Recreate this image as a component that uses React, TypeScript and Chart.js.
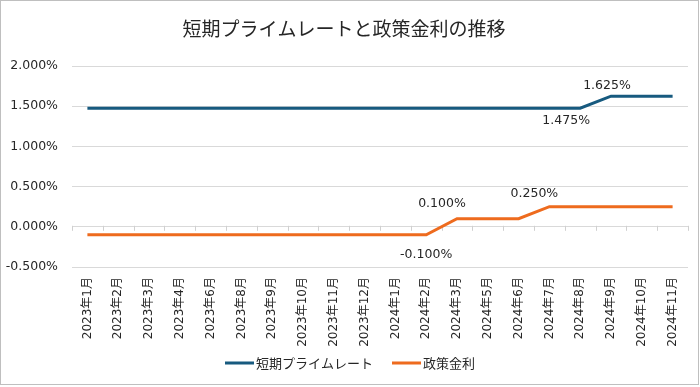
import React, { useEffect, useRef } from "react";
import { Chart, registerables } from "chart.js";

Chart.register(...registerables);

const categories = [
  "2023年1月", "2023年2月", "2023年3月", "2023年4月", "2023年6月",
  "2023年8月", "2023年9月", "2023年10月", "2023年11月", "2023年12月",
  "2024年1月", "2024年2月", "2024年3月", "2024年5月", "2024年6月",
  "2024年7月", "2024年8月", "2024年9月", "2024年10月", "2024年11月",
];

const primeRate = [
  1.475, 1.475, 1.475, 1.475, 1.475, 1.475, 1.475, 1.475, 1.475, 1.475,
  1.475, 1.475, 1.475, 1.475, 1.475, 1.475, 1.475, 1.625, 1.625, 1.625,
];

const policyRate = [
  -0.1, -0.1, -0.1, -0.1, -0.1, -0.1, -0.1, -0.1, -0.1, -0.1,
  -0.1, -0.1, 0.1, 0.1, 0.1, 0.25, 0.25, 0.25, 0.25, 0.25,
];

const seriesNames = ["短期プライムレート", "政策金利"];
const yTicks = [-0.5, 0, 0.5, 1.0, 1.5, 2.0];

// labelled points: [dataset index, category index]
const labelPoints: [number, number][] = [
  [0, 16],
  [0, 17],
  [1, 11],
  [1, 12],
  [1, 15],
];

// label offsets (styling), same order as labelPoints
const labelOffsets: [number, number][] = [
  [-14, 13],
  [-4, -10],
  [0, 20],
  [-15, -15],
  [-15, -13],
];

const NUM_FONT = "'DejaVu Sans', 'Noto Sans CJK JP', sans-serif";
const CJK_FONT = "'Noto Sans CJK JP', sans-serif";
const COLORS = ["#175a7f", "#ee6b1e"];

const fmt = (v: number) => v.toFixed(3) + "%";

const decorPlugin = {
  id: "decor",
  beforeDatasetsDraw(chart: any) {
    const { ctx, chartArea, scales } = chart;
    const y = scales.y;
    const y0 = y.getPixelForValue(0);
    const n = categories.length;
    const w = (chartArea.right - chartArea.left) / n;
    ctx.save();
    ctx.strokeStyle = "#d0d0d0";
    ctx.lineWidth = 1;
    ctx.beginPath();
    for (let i = 0; i <= n; i++) {
      const px = Math.round(chartArea.left + i * w) + 0.5;
      ctx.moveTo(px, y0 - 1);
      ctx.lineTo(px, y0 + 4);
    }
    ctx.stroke();
    ctx.restore();
  },
  afterDraw(chart: any) {
    const { ctx, width, height } = chart;
    ctx.save();
    // data labels
    ctx.font = `12.5px ${NUM_FONT}`;
    ctx.fillStyle = "#262626";
    ctx.textAlign = "center";
    ctx.textBaseline = "middle";
    labelPoints.forEach(([ds, idx], k) => {
      const meta = chart.getDatasetMeta(ds);
      const pt = meta.data[idx];
      const v = chart.data.datasets[ds].data[idx] as number;
      const [dx, dy] = labelOffsets[k];
      ctx.fillText(fmt(v), pt.x + dx, pt.y + dy);
    });

    // legend
    ctx.font = `13px ${CJK_FONT}`;
    const lineW = 29;
    const gap = 2;
    const itemGap = 19;
    const items = chart.data.datasets.map((d: any) => ({
      label: d.label,
      color: d.borderColor,
      tw: ctx.measureText(d.label).width,
    }));
    const total =
      items.reduce((s: number, it: any) => s + lineW + gap + it.tw, 0) +
      itemGap * (items.length - 1);
    let cx = width / 2 - total / 2;
    const ly = 363;
    ctx.textAlign = "left";
    items.forEach((it: any) => {
      ctx.fillStyle = it.color;
      ctx.fillRect(cx, ly - 1.5, lineW, 3);
      cx += lineW + gap;
      ctx.fillStyle = "#262626";
      ctx.fillText(it.label, cx, ly);
      cx += it.tw + itemGap;
    });

    // border
    ctx.strokeStyle = "#bfbfbf";
    ctx.lineWidth = 1;
    ctx.strokeRect(0.5, 0.5, width - 2, height - 3);
    ctx.restore();
  },
};

export default function App() {
  const ref = useRef<HTMLCanvasElement>(null);

  useEffect(() => {
    document.body.style.margin = "0";
    if (!ref.current) return;
    const chart = new Chart(ref.current, {
      type: "line",
      data: {
        labels: categories,
        datasets: [
          {
            label: seriesNames[0],
            data: primeRate,
            borderColor: COLORS[0],
            backgroundColor: COLORS[0],
            borderWidth: 3,
            pointRadius: 0,
            tension: 0,
          },
          {
            label: seriesNames[1],
            data: policyRate,
            borderColor: COLORS[1],
            backgroundColor: COLORS[1],
            borderWidth: 3,
            pointRadius: 0,
            tension: 0,
          },
        ],
      },
      options: {
        animation: false,
        responsive: false,
        devicePixelRatio: 1,
        layout: { padding: { left: 0, right: 12, top: 0, bottom: 30 } },
        plugins: {
          legend: { display: false },
          tooltip: { enabled: false },
          title: {
            display: true,
            text: "短期プライムレートと政策金利の推移",
            color: "#262626",
            font: { family: CJK_FONT, size: 19, weight: "normal", lineHeight: 1.2 },
            padding: { top: 17.6, bottom: 25.6 },
          },
        },
        scales: {
          x: {
            offset: true,
            grid: { display: false, drawTicks: false },
            border: { display: false },
            ticks: {
              minRotation: 90,
              maxRotation: 90,
              autoSkip: false,
              padding: 10,
              color: "#262626",
              font: { family: NUM_FONT, size: 12 },
            },
            afterFit(scale: any) {
              scale.height = 90;
            },
          },
          y: {
            min: -0.5,
            max: 2.0,
            afterBuildTicks(scale: any) {
              scale.ticks = yTicks.map((v) => ({ value: v }));
            },
            grid: { color: "#d9d9d9", drawTicks: false, lineWidth: 1 },
            border: { display: false },
            ticks: {
              padding: 14,
              color: "#262626",
              font: { family: NUM_FONT, size: 12.5 },
              callback: (v: any) => fmt(Number(v)),
            },
            afterFit(scale: any) {
              scale.width = 72;
            },
          },
        },
      },
      plugins: [decorPlugin],
    });
    return () => chart.destroy();
  }, []);

  return (
    <div style={{ width: 700, height: 387 }}>
      <canvas ref={ref} width={700} height={387} style={{ display: "block" }} />
    </div>
  );
}
